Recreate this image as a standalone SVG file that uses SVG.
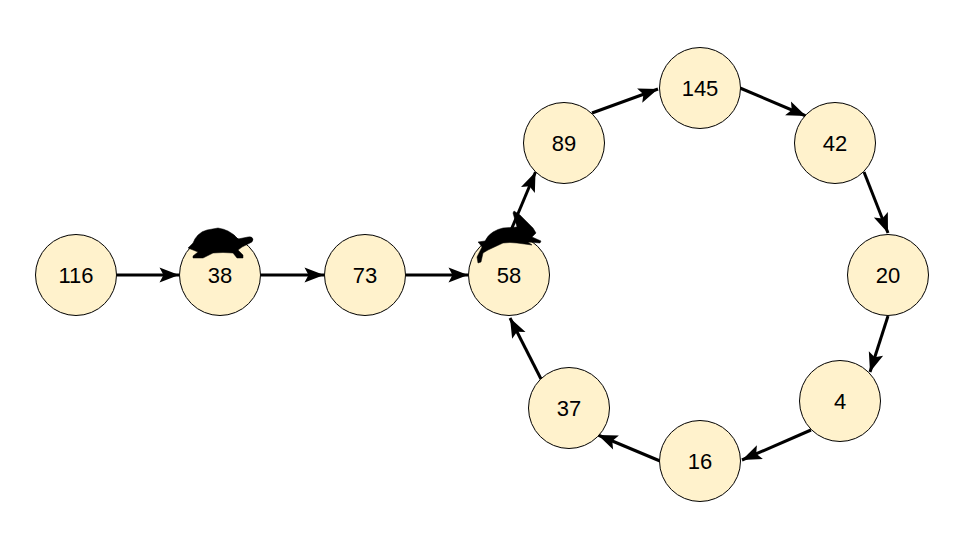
<svg xmlns="http://www.w3.org/2000/svg" width="960" height="540" viewBox="0 0 960 540">
  <style>
    .node circle { fill: #fff2cc; stroke: #000; stroke-width: 1; }
    .node text { font-family: "Liberation Sans", Arial, sans-serif; font-size: 22px; fill: #000; text-anchor: middle; }
    #connectors line { stroke: #000; stroke-width: 3; fill: none; marker-end: url(#arrow); }
  </style>
  <defs>
    <marker id="arrow" markerUnits="userSpaceOnUse" markerWidth="22" markerHeight="20" refX="20" refY="10" orient="auto">
      <path d="M20 10 L0.500 2.500 L4.500 10 L0.500 17.500 Z" fill="#000"/>
    </marker>
  </defs>
  <rect width="960" height="540" fill="#fff"/>
  <g id="connectors">
    <line x1="117" y1="275" x2="179" y2="275"/>
    <line x1="261" y1="275" x2="324" y2="275"/>
    <line x1="406" y1="275" x2="468" y2="275"/>
    <line x1="509" y1="235" x2="535.5" y2="172"/>
    <line x1="592" y1="113" x2="658" y2="89"/>
    <line x1="740" y1="88" x2="806" y2="116"/>
    <line x1="864" y1="172" x2="888" y2="233"/>
    <line x1="888" y1="316" x2="870" y2="372"/>
    <line x1="811" y1="430" x2="742" y2="460"/>
    <line x1="660" y1="461" x2="598" y2="435"/>
    <line x1="541" y1="379" x2="510" y2="318"/>
  </g>
  <g id="n116" class="node"><circle cx="76" cy="275" r="40.5"/><text x="76" y="283">116</text></g>
  <g id="n38" class="node"><circle cx="220" cy="275" r="40.5"/><text x="220" y="283">38</text></g>
  <g id="n73" class="node"><circle cx="365" cy="275" r="40.5"/><text x="365" y="283">73</text></g>
  <g id="n58" class="node"><circle cx="509" cy="275" r="40.5"/><text x="509" y="283">58</text></g>
  <g id="n89" class="node"><circle cx="564" cy="143" r="40.5"/><text x="564" y="151">89</text></g>
  <g id="n145" class="node"><circle cx="700" cy="88" r="40.5"/><text x="700" y="96">145</text></g>
  <g id="n42" class="node"><circle cx="835" cy="143" r="40.5"/><text x="835" y="151">42</text></g>
  <g id="n20" class="node"><circle cx="888" cy="275" r="40.5"/><text x="888" y="283">20</text></g>
  <g id="n4" class="node"><circle cx="840" cy="401" r="40.5"/><text x="840" y="409">4</text></g>
  <g id="n16" class="node"><circle cx="700" cy="461" r="40.5"/><text x="700" y="469">16</text></g>
  <g id="n37" class="node"><circle cx="569" cy="408" r="40.5"/><text x="569" y="416">37</text></g>
  <!-- tortoise resting on node 38 -->
  <path id="tortoise" fill="#000" stroke="#000" stroke-width="0.5" stroke-linejoin="round" d="M188 248 L193 243 Q195 238 198 235 Q202 231 207 230 L218 228 Q224 229 228 231 Q234 234 238 239 L248 237 Q252 236 253 239 Q253 242 250 243 L242 247 L238 250 L243 255 L243 258 L237 258 L233 253 Q223 252 213 253 L203 258 L193 258 L193 256 L198 252 L193 250 Z"/>
  <!-- hare resting on node 58 -->
  <path id="hare" fill="#000" stroke="#000" stroke-width="0.5" stroke-linejoin="round" d="M478 242 L485 241 Q488 235 493 232 Q498 229 503 228 L517 227 L513 213 L514 211 L520 215 L527 222 L533 228 L536 233 L532 237 L541 241 L540 243 L528 242 L532 245 L517 243 Q510 242 503 243 L488 250 L483 253 L481 262 L478 263 L477 257 L482 247 L479 243 Z"/>
</svg>
